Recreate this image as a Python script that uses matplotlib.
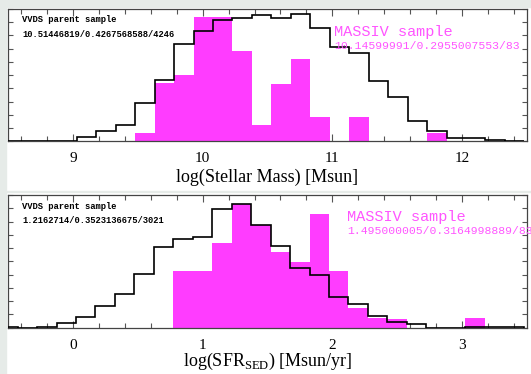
import numpy as np
import matplotlib
matplotlib.use("Agg")
import matplotlib.pyplot as plt
from matplotlib.patches import Rectangle
from matplotlib.ticker import MultipleLocator

plt.rcParams['font.family'] = 'Liberation Serif'
plt.rcParams['mathtext.fontset'] = 'custom'
plt.rcParams['mathtext.rm'] = 'Liberation Serif'

# binning (width 0.15, first bin partly outside the frame)
mass_bin_start = 8.43
sfr_bin_start = -0.576
bin_width = 0.15

# stellar mass: VVDS parent sample (black) and MASSIV (magenta)
mass_vvds = [0.02, 0.0, 0.05, 0.02, 0.35, 0.78, 1.26, 2.93, 4.62, 7.35, 8.3, 9.14, 9.3, 9.57,
             9.3, 9.59, 8.56, 7.09, 6.67, 4.59, 3.33, 1.54, 0.78, 0.23, 0.27, 0.1, 0.05]
mass_massiv = [0, 0, 0, 0, 0, 0, 0, 0.6, 4.39, 5.0, 9.39, 9.39, 6.86, 1.21,
               4.34, 6.23, 1.82, 0, 1.82, 0, 0, 0, 0.6, 0, 0, 0, 0]

# SFR_SED
sfr_vvds = [0.05, 0.0, 0.05, 0.33, 0.83, 1.64, 2.57, 4.03, 6.09, 6.67, 6.82, 8.94, 9.34, 7.75,
            6.17, 4.53, 3.98, 2.29, 1.79, 0.91, 0.45, 0.26, 0, 0, 0.08, 0.08, 0.08]
sfr_massiv = [0, 0, 0, 0, 0, 0, 0, 0, 0, 4.28, 4.28, 6.42, 9.34, 7.75,
              5.74, 4.98, 8.56, 4.28, 1.46, 0.75, 0.66, 0, 0, 0, 0.7, 0, 0]

mass_ticks = [9, 10, 11, 12]
sfr_ticks = [0, 1, 2, 3]

vvds_text = ["VVDS parent sample", "10.51446819/0.4267568588/4246",
             "VVDS parent sample", "1.2162714/0.3523136675/3021"]
massiv_text = ["MASSIV sample", "10.14599991/0.2955007553/83",
               "MASSIV sample", "1.495000005/0.3164998889/83"]

magenta = '#ff3cff'
gray_bg = '#e6ebe8'

fig = plt.figure(figsize=(5.31, 3.74), dpi=100, facecolor='white')
# light gray frame pieces of the screenshot
fig.patches.append(Rectangle((0, 0), 5.5 / 531, 1, transform=fig.transFigure, color=gray_bg, zorder=0))
fig.patches.append(Rectangle((0, 1 - 6.5 / 374), 1, 6.5 / 374, transform=fig.transFigure, color=gray_bg, zorder=0))
fig.patches.append(Rectangle((0, 1 - 192.5 / 374), 1, 1.2 / 374, transform=fig.transFigure, color=gray_bg, zorder=0))

ax1 = fig.add_axes([8 / 531, 1 - 141.3 / 374, 519 / 531, 132.3 / 374])
ax2 = fig.add_axes([8 / 531, 1 - 327.7 / 374, 519 / 531, 132.7 / 374])


def panel(ax, start, vvds, massiv, xlim, ticks, xlabel, lpad, txt_a, txt_b, ytxt):
    edges = start + bin_width * np.arange(len(vvds) + 1)
    ax.stairs(massiv, edges, fill=True, color=magenta, zorder=2)
    ax.stairs(vvds, edges, color='black', lw=1.2, zorder=3)
    ax.set_xlim(*xlim)
    ax.set_ylim(0, 10)
    ax.set_xticks(ticks)
    ax.xaxis.set_minor_locator(MultipleLocator(0.2))
    ax.yaxis.set_major_locator(MultipleLocator(1))
    ax.set_yticklabels([])
    ax.tick_params(which='both', direction='in', top=True, right=True, color='#555555', width=0.8)
    ax.tick_params(which='major', length=5, labelsize=11, pad=8)
    ax.tick_params(which='minor', length=3.5)
    ax.tick_params(axis='y', which='major', length=3.5)
    for s in ax.spines.values():
        s.set_color('#444444')
        s.set_linewidth(0.9)
    ax.set_xlabel(xlabel, fontsize=13, labelpad=lpad)
    ax.text(0.027, 0.917, txt_a[0], transform=ax.transAxes, family='Liberation Mono',
            fontsize=6.3, fontweight='bold', va='center')
    ax.text(0.027, 0.811, txt_a[1], transform=ax.transAxes, family='Liberation Mono',
            fontsize=6.3, fontweight='bold', va='center')
    ax.text(ytxt[0], ytxt[1], txt_b[0], transform=ax.transAxes, family='Liberation Mono',
            fontsize=11, color='#ff55ff', va='center')
    ax.text(ytxt[0], ytxt[2], txt_b[1], transform=ax.transAxes, family='Liberation Mono',
            fontsize=8.2, color='#ff55ff', va='center', clip_on=False)


panel(ax1, mass_bin_start, mass_vvds, mass_massiv, (8.5, 12.5), mass_ticks,
      "log(Stellar Mass) [Msun]", 2, vvds_text[:2], massiv_text[:2], (0.628, 0.826, 0.723))
panel(ax2, sfr_bin_start, sfr_vvds, sfr_massiv, (-0.5, 3.5), sfr_ticks,
      r"log(SFR$_{\mathrm{SED}}$) [Msun/yr]", -0.5, vvds_text[2:], massiv_text[2:], (0.653, 0.834, 0.731))

fig.savefig("out.png", dpi=100, facecolor='white')
